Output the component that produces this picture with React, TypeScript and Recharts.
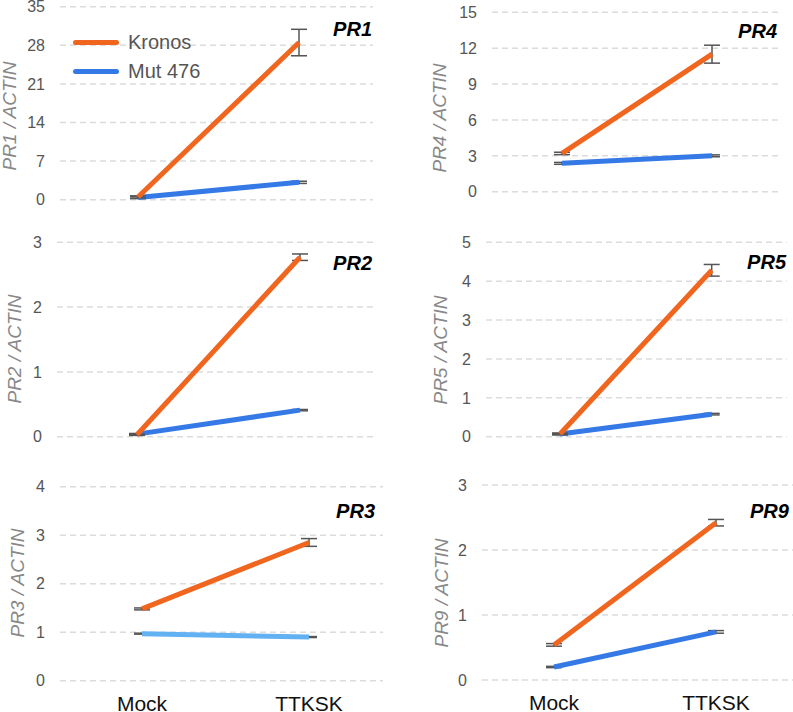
import React from "react";
import { CartesianGrid, ErrorBar, Legend, Line, LineChart, XAxis, YAxis } from "recharts";

const CATEGORIES = ["Mock", "TTKSK"];
const SERIES_NAMES = ["Kronos", "Mut 476"];

const PR1_KRONOS = [0.5, 28.5];
const PR1_KRONOS_ERR = [0.2, 2.4];
const PR1_MUT = [0.4, 3.15];
const PR1_MUT_ERR = [0.2, 0.2];
const PR1_TICKS = [0, 7, 14, 21, 28, 35];

const PR4_KRONOS = [3.2, 11.5];
const PR4_KRONOS_ERR = [0.1, 0.75];
const PR4_MUT = [2.37, 3.0];
const PR4_MUT_ERR = [0.08, 0.08];
const PR4_TICKS = [0, 3, 6, 9, 12, 15];

const PR2_KRONOS = [0.03, 2.77];
const PR2_KRONOS_ERR = [0.01, 0.05];
const PR2_MUT = [0.04, 0.41];
const PR2_MUT_ERR = [0.01, 0.01];
const PR2_TICKS = [0, 1, 2, 3];

const PR5_KRONOS = [0.07, 4.28];
const PR5_KRONOS_ERR = [0.02, 0.15];
const PR5_MUT = [0.07, 0.58];
const PR5_MUT_ERR = [0.02, 0.02];
const PR5_TICKS = [0, 1, 2, 3, 4, 5];

const PR3_KRONOS = [1.48, 2.85];
const PR3_KRONOS_ERR = [0.02, 0.08];
const PR3_MUT = [0.97, 0.9];
const PR3_MUT_ERR = [0.01, 0.01];
const PR3_TICKS = [0, 1, 2, 3, 4];

const PR9_KRONOS = [0.54, 2.42];
const PR9_KRONOS_ERR = [0.02, 0.05];
const PR9_MUT = [0.2, 0.74];
const PR9_MUT_ERR = [0.01, 0.02];
const PR9_TICKS = [0, 1, 2, 3];

const ORANGE = "#f0661f";
const BLUE = "#3479e6";
const LIGHT_BLUE = "#62b1f2";
const FONT = "'Liberation Sans', Arial, Helvetica, sans-serif";

function buildRows(k: number[], ke: number[], m: number[], me: number[]) {
  return CATEGORIES.map((name, i) => ({
    name,
    kronos: k[i],
    kronosErr: ke[i],
    mut: m[i],
    mutErr: me[i],
  }));
}

type Panel = {
  title: string;
  rows: ReturnType<typeof buildRows>;
  ticks: number[];
  mutColor: string;
  left: number;
  top: number;
  width: number;
  height: number;
  axisWidth: number;
  margin: { top: number; right: number; bottom: number; left: number };
  pad: { left: number; right: number };
  xHeight: number;
  showX: boolean;
  legend?: boolean;
};

const panels: Panel[] = [
  {
    title: "PR1", rows: buildRows(PR1_KRONOS, PR1_KRONOS_ERR, PR1_MUT, PR1_MUT_ERR), ticks: PR1_TICKS, mutColor: BLUE,
    left: 0, top: 0, width: 393, height: 230, axisWidth: 60,
    margin: { top: 6.7, right: 20, bottom: 30.3, left: 0 }, pad: { left: 78, right: 74 }, xHeight: 0, showX: false, legend: true,
  },
  {
    title: "PR4", rows: buildRows(PR4_KRONOS, PR4_KRONOS_ERR, PR4_MUT, PR4_MUT_ERR), ticks: PR4_TICKS, mutColor: BLUE,
    left: 400, top: 0, width: 393, height: 230, axisWidth: 92,
    margin: { top: 12.3, right: 13, bottom: 38.3, left: 0 }, pad: { left: 70, right: 68 }, xHeight: 0, showX: false,
  },
  {
    title: "PR2", rows: buildRows(PR2_KRONOS, PR2_KRONOS_ERR, PR2_MUT, PR2_MUT_ERR), ticks: PR2_TICKS, mutColor: BLUE,
    left: 0, top: 230, width: 393, height: 220, axisWidth: 57,
    margin: { top: 12.3, right: 17, bottom: 13.3, left: 0 }, pad: { left: 80, right: 76 }, xHeight: 0, showX: false,
  },
  {
    title: "PR5", rows: buildRows(PR5_KRONOS, PR5_KRONOS_ERR, PR5_MUT, PR5_MUT_ERR), ticks: PR5_TICKS, mutColor: BLUE,
    left: 400, top: 230, width: 393, height: 220, axisWidth: 86,
    margin: { top: 12.3, right: 6.3, bottom: 13.3, left: 0 }, pad: { left: 74, right: 75 }, xHeight: 0, showX: false,
  },
  {
    title: "PR3", rows: buildRows(PR3_KRONOS, PR3_KRONOS_ERR, PR3_MUT, PR3_MUT_ERR), ticks: PR3_TICKS, mutColor: LIGHT_BLUE,
    left: 0, top: 450, width: 393, height: 262, axisWidth: 60,
    margin: { top: 36.7, right: 10, bottom: 0, left: 0 }, pad: { left: 82, right: 74 }, xHeight: 31.3, showX: true,
  },
  {
    title: "PR9", rows: buildRows(PR9_KRONOS, PR9_KRONOS_ERR, PR9_MUT, PR9_MUT_ERR), ticks: PR9_TICKS, mutColor: BLUE,
    left: 400, top: 450, width: 393, height: 262, axisWidth: 82,
    margin: { top: 35, right: 0, bottom: 0, left: 0 }, pad: { left: 72, right: 77 }, xHeight: 32, showX: true,
  },
];

// title: right edge / baseline; ylabel: baseline x / centre y
const TITLE_POS = [
  { x: 372, y: 36, anchor: "end" },
  { x: 777, y: 37.5, anchor: "end" },
  { x: 372, y: 270, anchor: "end" },
  { x: 786, y: 269, anchor: "end" },
  { x: 375, y: 518, anchor: "end" },
  { x: 750, y: 518, anchor: "start" },
];
const YLABEL_POS = [
  { x: 16, y: 116 },
  { x: 446, y: 118 },
  { x: 21, y: 349 },
  { x: 447, y: 350 },
  { x: 24, y: 583 },
  { x: 448, y: 593 },
];

function renderLegend(props: any) {
  const items = props.payload || [];
  return (
    <div>
      {items.map((it: any) => (
        <div key={it.value} style={{ display: "flex", alignItems: "center", height: 28.7 }}>
          <span style={{ display: "inline-block", width: 46, height: 5, borderRadius: 3, background: it.color }} />
          <span style={{ marginLeft: 9, fontSize: 20, color: "#555", fontFamily: FONT }}>{it.value}</span>
        </div>
      ))}
    </div>
  );
}

function PanelChart({ p }: { p: Panel }) {
  return (
    <div style={{ position: "absolute", left: p.left, top: p.top }}>
      <LineChart width={p.width} height={p.height} data={p.rows} margin={p.margin}>
        <CartesianGrid vertical={false} stroke="#dcdcdc" strokeWidth={1.5} strokeDasharray="6 4" />
        <XAxis
          dataKey="name"
          hide={!p.showX}
          height={p.xHeight}
          padding={p.pad}
          axisLine={false}
          tickLine={false}
          tickSize={0}
          tickMargin={15}
          interval={0}
          tick={{ fontSize: 21, fill: "#111" }}
        />
        <YAxis
          width={p.axisWidth}
          domain={[p.ticks[0], p.ticks[p.ticks.length - 1]]}
          ticks={p.ticks}
          interval={0}
          axisLine={false}
          tickLine={false}
          tickSize={0}
          tickMargin={15}
          tick={{ fontSize: 16, fill: "#555" }}
        />
        {p.legend && (
          <Legend
            layout="vertical"
            align="center"
            verticalAlign="middle"
            content={renderLegend}
            wrapperStyle={{ left: 73, top: 28, width: "auto" }}
          />
        )}
        <Line
          type="linear"
          dataKey="mut"
          name={SERIES_NAMES[1]}
          stroke={p.mutColor}
          strokeWidth={5}
          dot={false}
          activeDot={false}
          isAnimationActive={false}
        >
          <ErrorBar dataKey="mutErr" width={8} stroke="#555" strokeWidth={1.5} direction="y" />
        </Line>
        <Line
          type="linear"
          dataKey="kronos"
          name={SERIES_NAMES[0]}
          stroke={ORANGE}
          strokeWidth={5}
          dot={false}
          activeDot={false}
          isAnimationActive={false}
        >
          <ErrorBar dataKey="kronosErr" width={8} stroke="#555" strokeWidth={1.5} direction="y" />
        </Line>
      </LineChart>
    </div>
  );
}

export default function App() {
  return (
    <div
      style={{
        position: "absolute",
        left: 0,
        top: 0,
        width: 793,
        height: 712,
        background: "#fff",
        overflow: "hidden",
        fontFamily: FONT,
      }}
    >
      {panels.map((p) => (
        <PanelChart key={p.title} p={p} />
      ))}
      <svg width={793} height={712} style={{ position: "absolute", left: 0, top: 0, pointerEvents: "none" }}>
        {panels.map((p, i) => (
          <g key={p.title}>
            <text
              x={TITLE_POS[i].x}
              y={TITLE_POS[i].y}
              textAnchor={TITLE_POS[i].anchor as any}
              fontSize={20}
              fontWeight="bold"
              fontStyle="italic"
              fill="#000"
            >
              {p.title}
            </text>
            <text
              x={YLABEL_POS[i].x}
              y={YLABEL_POS[i].y}
              transform={`rotate(-90 ${YLABEL_POS[i].x} ${YLABEL_POS[i].y})`}
              textAnchor="middle"
              fontSize={19}
              fontStyle="italic"
              fill="#888"
            >
              {`${p.title} / ACTIN`}
            </text>
          </g>
        ))}
      </svg>
    </div>
  );
}
